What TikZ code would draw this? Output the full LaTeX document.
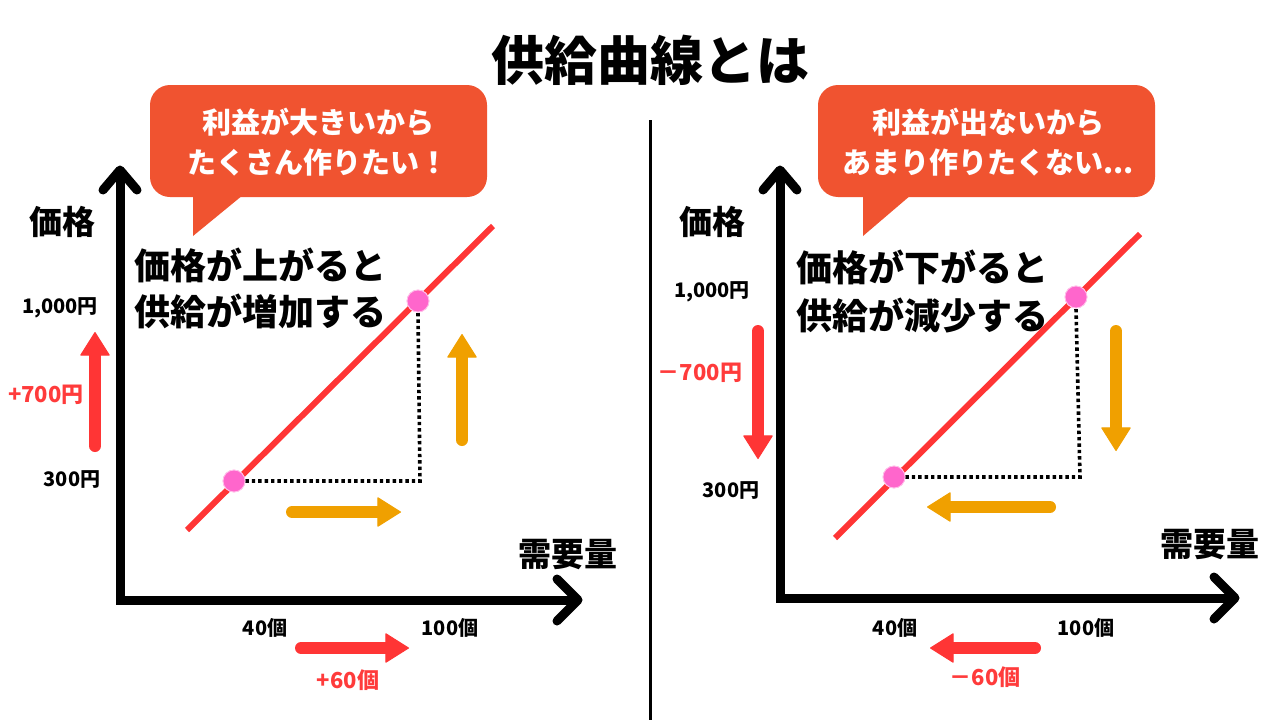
\documentclass[tikz,border=0pt]{standalone}
\usepackage{fontspec}
\setmainfont{Noto Sans CJK JP}
\usetikzlibrary{arrows.meta}
\definecolor{bubble}{HTML}{F05330}
\definecolor{curve}{HTML}{FF3535}
\definecolor{amber}{HTML}{F0A000}
\definecolor{dot}{HTML}{FF66CC}
\definecolor{redtxt}{HTML}{FF3B3B}
\tikzset{
  axis/.style={line width=9pt, line join=miter},
  chev/.style={line width=9pt, line cap=round, line join=round},
  curveline/.style={curve, line width=6pt},
  ptdot/.style={circle, fill=dot, draw=dot!40, line width=0.8pt, minimum size=22pt, inner sep=0pt},
  guide/.style={line width=3.6pt, dash pattern=on 3.4pt off 3pt},
  fat/.style={line width=12pt, line cap=round, -{Triangle[width=30pt,length=24pt,line width=1pt,round]}},
  bubblebox/.style={fill=bubble, rounded corners=20pt},
  btxt/.style={white, font=\bfseries\fontsize{29}{30}\selectfont, inner sep=0pt},
  bigtxt/.style={black, font=\bfseries\fontsize{36}{38}\selectfont, inner sep=0pt, anchor=west},
  lbl/.style={black, font=\bfseries\fontsize{33}{34}\selectfont, inner sep=0pt},
  tick/.style={black, font=\bfseries\fontsize{20}{21}\selectfont, inner sep=0pt},
  rtick/.style={redtxt, font=\bfseries\fontsize{22}{23}\selectfont, inner sep=0pt},
}
\begin{document}
\begin{tikzpicture}[x=1pt, y=-1pt]
\useasboundingbox (0,0) rectangle (1280,720);
\fill[white] (0,0) rectangle (1280,720);

% title and divider
\node[font=\bfseries\fontsize{53}{55}\selectfont, inner sep=0pt] (title) at (650,60) {供給曲線とは};
\coordinate (divtop) at (650,120);
\coordinate (divbot) at (650,720);
\draw[line width=3pt] (divtop) -- (divbot);

% ================= LEFT =================
\fill[bubblebox] (150,85) rectangle (487,197);
\fill[bubble] (193,195) -- (243,195) -- (193,236) -- cycle;
\node[btxt] (lb1) at (318,122) {利益が大きいから};
\node[btxt] (lb2) at (318,163) {たくさん作りたい！};

\coordinate (lO) at (120,600);
\coordinate (lYt) at (120,170);
\coordinate (lXt) at (578,600);
\draw[axis] (lYt) -- (lO) -- (lXt);
\coordinate (lYa) at (103,190);
\coordinate (lYb) at (137,190);
\draw[chev] (lYa) -- (lYt) -- (lYb);
\coordinate (lXa) at (557,579);
\coordinate (lXb) at (557,621);
\draw[chev] (lXa) -- (lXt) -- (lXb);

\node[lbl] (lprice) at (62,222) {価格};
\node[lbl] (lqty) at (568,555) {需要量};

\node[bigtxt] (lm1) at (134,265) {価格が上がると};
\node[bigtxt] (lm2) at (134,311) {供給が増加する};

\coordinate (lc1) at (187,530);
\coordinate (lc2) at (493,226);
\draw[curveline] (lc1) -- (lc2);
\coordinate (lcorner) at (420,481);
\node[ptdot] (lp1) at (234,481) {};
\node[ptdot] (lp2) at (418,301) {};
\draw[guide] (lp1.east) -- (lcorner) -- (lp2.south);
\node[ptdot] at (234,481) {};
\node[ptdot] at (418,301) {};

\coordinate (lua) at (462,440);
\coordinate (lub) at (462,334);
\draw[fat, amber] (lua) -- (lub);
\coordinate (lra) at (292,512);
\coordinate (lrb) at (401,512);
\draw[fat, amber] (lra) -- (lrb);

\coordinate (lpa) at (95,446);
\coordinate (lpb) at (95,332);
\draw[fat, curve] (lpa) -- (lpb);
\node[rtick] (lplus) at (46,395) {+700円};
\node[tick] (l1000) at (60,308) {1,000円};
\node[tick] (l300) at (72,480) {300円};
\node[tick] (l40) at (265,628) {40個};
\node[tick] (l100) at (450,628) {100個};
\coordinate (lqa) at (301,648);
\coordinate (lqb) at (409,648);
\draw[fat, curve] (lqa) -- (lqb);
\node[rtick] (lq) at (348,680) {+60個};

% ================= RIGHT =================
\fill[bubblebox] (818,85) rectangle (1155,197);
\fill[bubble] (863,195) -- (911,195) -- (863,236) -- cycle;
\node[btxt] (rb1) at (988,122) {利益が出ないから};
\node[btxt] (rb2) at (988,163) {あまり作りたくない...};

\coordinate (rO) at (780,598);
\coordinate (rYt) at (780,170);
\coordinate (rXt) at (1235,598);
\draw[axis] (rYt) -- (rO) -- (rXt);
\coordinate (rYa) at (763,190);
\coordinate (rYb) at (797,190);
\draw[chev] (rYa) -- (rYt) -- (rYb);
\coordinate (rXa) at (1214,577);
\coordinate (rXb) at (1214,619);
\draw[chev] (rXa) -- (rXt) -- (rXb);

\node[lbl] (rprice) at (712,222) {価格};
\node[lbl] (rqty) at (1210,545) {需要量};

\node[bigtxt] (rm1) at (796,267) {価格が下がると};
\node[bigtxt] (rm2) at (796,316) {供給が減少する};

\coordinate (rc1) at (835,538);
\coordinate (rc2) at (1140,234);
\draw[curveline] (rc1) -- (rc2);
\coordinate (rcorner) at (1080,477);
\node[ptdot] (rp1) at (894,477) {};
\node[ptdot] (rp2) at (1076,297) {};
\draw[guide] (rp1.east) -- (rcorner) -- (rp2.south);
\node[ptdot] at (894,477) {};
\node[ptdot] at (1076,297) {};

\coordinate (rda) at (1116,331);
\coordinate (rdb) at (1116,451);
\draw[fat, amber] (rda) -- (rdb);
\coordinate (rla) at (1050,507);
\coordinate (rlb) at (927,507);
\draw[fat, amber] (rla) -- (rlb);

\coordinate (rpa) at (758,331);
\coordinate (rpb) at (758,459);
\draw[fat, curve] (rpa) -- (rpb);
\node[rtick] (rminus) at (700,373) {－700円};
\node[tick] (r1000) at (712,292) {1,000円};
\node[tick] (r300) at (731,491) {300円};
\node[tick] (r40) at (895,628) {40個};
\node[tick] (r100) at (1086,628) {100個};
\coordinate (rqa) at (1035,648);
\coordinate (rqb) at (930,648);
\draw[fat, curve] (rqa) -- (rqb);
\node[rtick] (rq) at (985,677) {－60個};
\end{tikzpicture}
\end{document}
